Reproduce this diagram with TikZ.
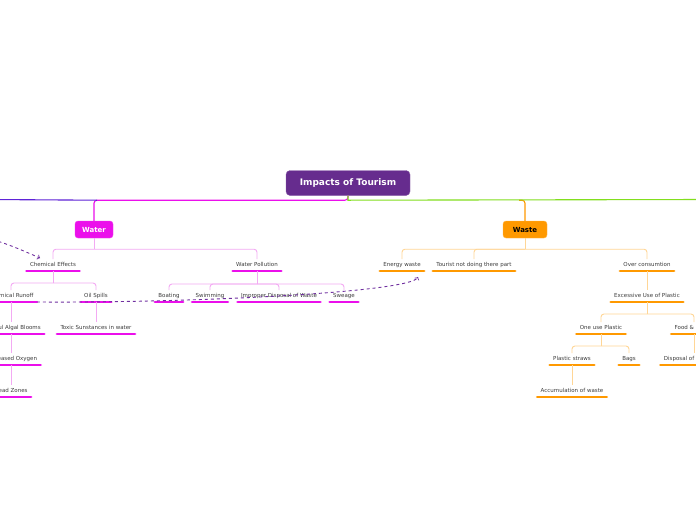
\documentclass[tikz,border=0pt]{standalone}
\usepackage{fontspec}
\setmainfont{DejaVu Sans}
\definecolor{rootpurple}{RGB}{102,44,142}
\definecolor{wmag}{RGB}{235,15,235}
\definecolor{wlight}{RGB}{243,170,243}
\definecolor{sorange}{RGB}{255,153,0}
\definecolor{slight}{RGB}{255,214,150}
\definecolor{railgreen}{RGB}{130,222,30}
\definecolor{railviolet}{RGB}{95,35,215}
\definecolor{txtgray}{RGB}{60,60,60}
\definecolor{linkpurple}{RGB}{112,48,160}
\newcommand{\leaffont}{\fontsize{5.5}{6.6}\selectfont}

\begin{document}
\begin{tikzpicture}[x=1pt,y=-1pt,
  rootbox/.style={fill=rootpurple, draw=rootpurple!75!white, rounded corners=4pt, minimum width=124pt, minimum height=25pt, text=white, font=\bfseries\fontsize{9}{10}\selectfont},
  topic/.style={rounded corners=3pt, minimum height=17pt, font=\bfseries\fontsize{7}{8}\selectfont},
  leaf/.style={font=\leaffont, text=txtgray, text height=4pt, text depth=1.2pt, inner xsep=3.3pt, inner ysep=3.2pt,
    append after command={(\tikzlastnode.south west) edge[line width=2.8pt, line cap=round, draw=#1] (\tikzlastnode.south east)}},
  wlink/.style={draw=wlight, line width=0.9pt, rounded corners=3pt},
  slink/.style={draw=slight, line width=0.9pt, rounded corners=3pt},
  crosslink/.style={draw=linkpurple, dashed, line width=0.9pt, ->}]
  \useasboundingbox[fill=white] (0,0) rectangle (696,520);

  % main topics
  \node[rootbox] (root) at (348,183) {Impacts of Tourism};
  \node[topic, fill=wmag, draw=wmag!80!white, text=white, minimum width=38pt] (water) at (94,229.5) {Water};
  \node[topic, fill=sorange, draw=sorange!70!white, text=black, minimum width=44pt] (waste) at (525,229.5) {Waste};
  \coordinate (west) at (-10,199.5);
  \coordinate (east) at (706,199.5);

  % water branch
  \node[leaf=wmag] (ce) at (53,265) {Chemical Effects};
  \node[leaf=wmag] (wp) at (257,265) {Water Pollution};
  \node[leaf=wmag] (cr) at (11,296) {Chemical Runoff};
  \node[leaf=wmag] (os) at (96,296) {Oil Spills};
  \node[leaf=wmag] (hab) at (11,328) {Harmful Algal Blooms};
  \node[leaf=wmag] (tsw) at (96,328) {Toxic Sunstances in water};
  \node[leaf=wmag] (dox) at (11,359) {Decreased Oxygen};
  \node[leaf=wmag] (dz) at (11,391) {Dead Zones};
  \node[leaf=wmag] (bo) at (169,296) {Boating};
  \node[leaf=wmag] (sw) at (210,296) {Swimming};
  \node[leaf=wmag] (idw) at (279,296) {Improper Disposal of Waste};
  \node[leaf=wmag] (sew) at (344,296) {Sweage};

  % waste branch
  \node[leaf=sorange] (ew) at (402,265) {Energy waste};
  \node[leaf=sorange] (tn) at (474,265) {Tourist not doing there part};
  \node[leaf=sorange] (oc) at (647,265) {Over consumtion};
  \node[leaf=sorange] (eu) at (647,296) {Excessive Use of Plastic};
  \node[leaf=sorange] (oup) at (601,328) {One use Plastic};
  \node[leaf=sorange] (fd) at (694,328) {Food \& Drinks};
  \node[leaf=sorange] (ps) at (572,359) {Plastic straws};
  \node[leaf=sorange] (bg) at (629,359) {Bags};
  \node[leaf=sorange] (du) at (697,359) {Disposal of unused food};
  \node[leaf=sorange] (aw) at (572,391) {Accumulation of waste};

  % rails from the root
  \draw[wmag, line width=1.1pt, rounded corners=3pt] (root.south) -- ++(0,4.5) coordinate (rail) -| (water.north);
  \draw[railviolet, line width=1.1pt] ([xshift=3pt]rail -| water.north) -- (west);
  \draw[sorange, line width=1.1pt, rounded corners=3pt] ([xshift=-6pt]rail -| waste.north) -| (waste.north);
  \draw[railgreen, line width=1.1pt] (root.south) -- (rail) -- (east);

  % water connectors
  \draw[wlink] (water.south) -- ++(0,11) coordinate (wj);
  \draw[wlink] (wj) -| (ce.north);
  \draw[wlink] (wj) -| (wp.north);
  \draw[wlink] (ce.south) -- ++(0,12) coordinate (cej);
  \draw[wlink] (cej) -| (cr.north);
  \draw[wlink] (cej) -| (os.north);
  \draw[wlink] (cr.south) -- (hab.north);
  \draw[wlink] (hab.south) -- (dox.north);
  \draw[wlink] (dox.south) -- (dz.north);
  \draw[wlink] (os.south) -- (tsw.north);
  \draw[wlink] (wp.south) -- ++(0,13) coordinate (wpj);
  \draw[wlink] (wpj) -| (bo.north);
  \draw[wlink] (wpj) -| (sw.north);
  \draw[wlink] (wpj) -| (idw.north);
  \draw[wlink] (wpj) -| (sew.north);

  % waste connectors
  \draw[slink] (waste.south) -- ++(0,11) coordinate (sj);
  \draw[slink] (sj) -| (ew.north);
  \draw[slink] (sj) -| (tn.north);
  \draw[slink] (sj) -| (oc.north);
  \draw[slink] (oc.south) -- (eu.north);
  \draw[slink] (eu.south) -- ++(0,12) coordinate (euj);
  \draw[slink] (euj) -| (oup.north);
  \draw[slink] (euj) -| (fd.north);
  \draw[slink] (fd.south) -- (du.north -| fd.south);
  \draw[slink] (oup.south) -- ++(0,12) coordinate (oupj);
  \draw[slink] (oupj) -| (ps.north);
  \draw[slink] (oupj) -| (bg.north);
  \draw[slink] (ps.south) -- (aw.north);

  % cross links
  \coordinate (far) at (-30,232);
  \draw[crosslink] (cr.south east) .. controls (200,303) and (410,292) .. ([xshift=16pt,yshift=-6pt]ew.south);
  \draw[crosslink] (far) .. controls (10,245) .. ([xshift=-13pt,yshift=1pt]ce.north);
\end{tikzpicture}
\end{document}
